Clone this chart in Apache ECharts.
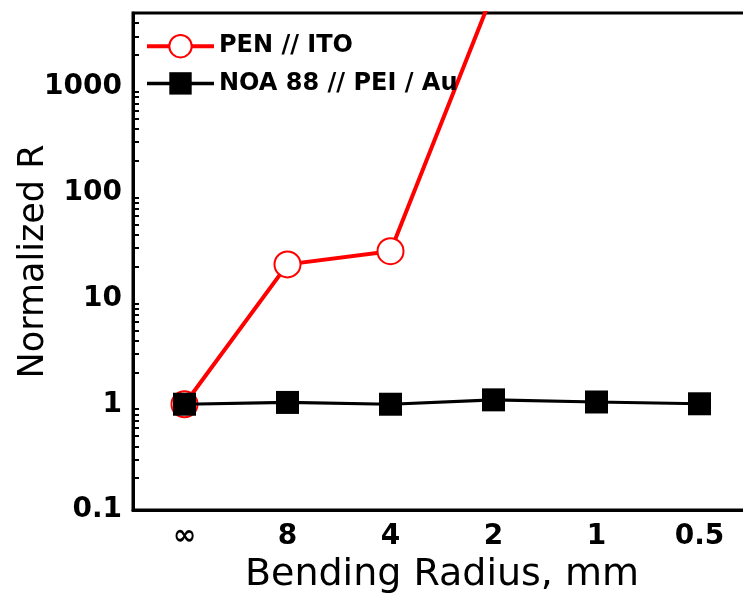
<!DOCTYPE html>
<html>
<head>
<meta charset="utf-8">
<script src="https://cdn.jsdelivr.net/npm/echarts@6/dist/echarts.min.js"></script>
<style>
  html, body { margin: 0; padding: 0; background: #ffffff; }
  #chart { width: 743px; height: 599px; }
</style>
</head>
<body>
<div id="chart"></div>
<script>
// Bending radius categories (mm), flat sample first
const radii = ['∞', '8', '4', '2', '1', '0.5'];

// Normalized resistance R/R0 for each stack
const penIto = [1, 21, 28, 8000];
const noaPeiAu = [1.0, 1.04, 1.0, 1.10, 1.05, 1.01];

// Decade labels shown on the log axis
const decadeLabels = [0.1, 1, 10, 100, 1000];

const FONT = 'DejaVu Sans';

const chart = echarts.init(document.getElementById('chart'), null, { renderer: 'canvas' });

chart.setOption({
  animation: false,
  backgroundColor: '#ffffff',
  grid: {
    left: 133, top: 13, right: -8, bottom: 89,
    show: true, borderColor: '#000000', borderWidth: 3,
    containLabel: false,
    outerBoundsMode: 'none'
  },
  legend: {
    left: 145, top: 34, orient: 'vertical', padding: 0,
    itemWidth: 67, itemHeight: 28, itemGap: 13,
    textStyle: { fontFamily: FONT, fontWeight: 'bold', fontSize: 24, color: '#000000' },
    data: [
      { name: 'PEN // ITO', lineStyle: { width: 4 } },
      { name: 'NOA 88 // PEI / Au', lineStyle: { width: 3.5 } }
    ]
  },
  xAxis: {
    type: 'category',
    data: radii,
    boundaryGap: true,
    name: 'Bending Radius, mm',
    nameLocation: 'middle',
    nameGap: 46,
    nameMoveOverlap: false,
    nameTextStyle: { fontFamily: FONT, fontSize: 38, color: '#000000' },
    axisLine: { lineStyle: { color: '#000000', width: 3 } },
    axisTick: { inside: true, alignWithLabel: true, length: 9, lineStyle: { color: '#000000', width: 2.5 } },
    axisLabel: { margin: 13, fontFamily: FONT, fontWeight: 'bold', fontSize: 28, color: '#000000' },
    splitLine: { show: false }
  },
  yAxis: {
    type: 'log',
    logBase: 10,
    min: 0.1,
    max: 5000,
    name: 'Normalized R',
    nameLocation: 'middle',
    nameGap: 82,
    nameMoveOverlap: false,
    nameTextStyle: { fontFamily: FONT, fontSize: 35, color: '#000000' },
    axisLine: { show: true, lineStyle: { color: '#000000', width: 3 } },
    axisTick: { inside: true, length: 10, lineStyle: { color: '#000000', width: 2.5 } },
    minorTick: { show: true, splitNumber: 9, length: 6, lineStyle: { color: '#000000', width: 2 } },
    axisLabel: {
      margin: 11, fontFamily: FONT, fontWeight: 'bold', fontSize: 28, color: '#000000',
      showMaxLabel: false,
      formatter: function (v) {
        return decadeLabels.some(function (d) { return Math.abs(d - v) < 1e-9; }) ? String(v) : '';
      }
    },
    splitLine: { show: false }
  },
  series: [
    {
      name: 'PEN // ITO',
      type: 'line',
      data: penIto,
      symbol: 'emptyCircle',
      symbolSize: 26,
      clip: true,
      lineStyle: { color: '#ff0000', width: 4 },
      itemStyle: { color: '#ff0000', borderColor: '#ff0000', borderWidth: 1.5 },
      z: 2
    },
    {
      name: 'NOA 88 // PEI / Au',
      type: 'line',
      data: noaPeiAu,
      symbol: 'rect',
      symbolSize: 23,
      lineStyle: { color: '#000000', width: 3.2 },
      itemStyle: { color: '#000000' },
      z: 3
    }
  ]
});
</script>
</body>
</html>
